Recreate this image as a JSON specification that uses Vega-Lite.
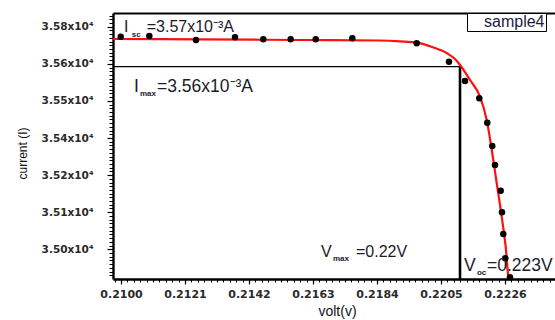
{
  "$schema": "https://vega.github.io/schema/vega-lite/v6.json",
  "autosize": {"type": "none"},
  "width": 442,
  "height": 266,
  "padding": {"left": 113, "top": 13, "right": 0, "bottom": 41},
  "background": "white",
  "config": {
    "view": {"stroke": null},
    "axis": {"grid": false, "domainColor": "black", "tickColor": "black", "labelFont": "DejaVu Sans", "titleFont": "Liberation Sans", "labelColor": "#2a2a2a", "titleColor": "#111", "titleFontWeight": "normal", "labelOverlap": false, "labelFlush": false, "labelBound": false}
  },
  "datasets": {
    "points": [
      {"v": 0.20999, "i": 3.57413},
      {"v": 0.210929, "i": 3.57437},
      {"v": 0.212461, "i": 3.57302},
      {"v": 0.213741, "i": 3.57393},
      {"v": 0.214669, "i": 3.57325},
      {"v": 0.215568, "i": 3.57325},
      {"v": 0.216389, "i": 3.57325},
      {"v": 0.21759, "i": 3.57359},
      {"v": 0.219703, "i": 3.57191},
      {"v": 0.220762, "i": 3.56571},
      {"v": 0.221288, "i": 3.5592},
      {"v": 0.221757, "i": 3.55338},
      {"v": 0.222019, "i": 3.54515},
      {"v": 0.222183, "i": 3.5373},
      {"v": 0.222272, "i": 3.5309},
      {"v": 0.222459, "i": 3.52224},
      {"v": 0.222502, "i": 3.51497},
      {"v": 0.222544, "i": 3.50765},
      {"v": 0.22261, "i": 3.49947},
      {"v": 0.222764, "i": 3.49307}
    ],
    "fit": [
      {"v": 0.209737, "i": 3.57336},
      {"v": 0.212592, "i": 3.57325},
      {"v": 0.215873, "i": 3.57302},
      {"v": 0.218499, "i": 3.57285},
      {"v": 0.219155, "i": 3.57258},
      {"v": 0.219713, "i": 3.57211},
      {"v": 0.220205, "i": 3.57066},
      {"v": 0.220697, "i": 3.56854},
      {"v": 0.22096, "i": 3.56662},
      {"v": 0.221124, "i": 3.5646},
      {"v": 0.221452, "i": 3.55954},
      {"v": 0.22178, "i": 3.55391},
      {"v": 0.222, "i": 3.54606},
      {"v": 0.222216, "i": 3.53259},
      {"v": 0.222328, "i": 3.52484},
      {"v": 0.222492, "i": 3.51348},
      {"v": 0.222633, "i": 3.50226},
      {"v": 0.222708, "i": 3.49327},
      {"v": 0.222731, "i": 3.49181}
    ],
    "hline": [{"v": 0.209737, "v2": 0.221124, "i": 3.56402}],
    "vline": [{"v": 0.221124, "i": 3.49249, "i2": 3.56402}],
    "mainText": [
      {"v": 0.210098, "i": 3.5774, "t": "I"},
      {"v": 0.210843, "i": 3.5775, "t": "=3.57x10⁻³A"},
      {"v": 0.216563, "i": 3.50159, "t": "V"},
      {"v": 0.217711, "i": 3.50159, "t": "=0.22V"}
    ],
    "bigText": [
      {"v": 0.210427, "i": 3.55718, "t": "I"},
      {"v": 0.211181, "i": 3.55718, "t": "=3.56x10⁻³A"},
      {"v": 0.221255, "i": 3.49688, "t": "V"},
      {"v": 0.222009, "i": 3.49688, "t": "=0.223V"}
    ],
    "subText": [
      {"v": 0.210355, "i": 3.5746, "t": "sc"},
      {"v": 0.210623, "i": 3.55482, "t": "max"},
      {"v": 0.216956, "i": 3.49923, "t": "max"},
      {"v": 0.221681, "i": 3.49453, "t": "oc"}
    ]
  },
  "resolve": {"axis": {"x": "independent", "y": "independent"}},
  "layer": [
    {
      "data": {"name": "hline"},
      "mark": {"type": "rule", "color": "black", "strokeWidth": 1.3},
      "encoding": {
        "x": {"field": "v", "type": "quantitative", "scale": {"domain": [0.209737, 0.224241], "nice": false, "zero": false},
              "axis": {"orient": "top", "labels": false, "ticks": false, "title": null, "domainWidth": 2}},
        "x2": {"field": "v2"},
        "y": {"field": "i", "type": "quantitative", "scale": {"domain": [3.49249, 3.58212], "nice": false, "zero": false},
              "axis": {"orient": "left", "title": "current (I)", "titleFontSize": 12, "titleX": -91, "titleY": 140, "titleAngle": -90, "titleAlign": "center", "titleBaseline": "middle",
                       "domainWidth": 2.4, "labelFontSize": 10.5, "labelFontWeight": "bold", "labelPadding": 14, "tickSize": 6, "tickWidth": 1.2,
                       "values": [3.5025, 3.515, 3.5275, 3.54, 3.5525, 3.565, 3.5775],
                       "labelExpr": "['3.58','3.56','3.55','3.54','3.52','3.51','3.50'][round((3.5775-datum.value)/0.0125)] + 'x10⁴'"}}
      }
    },
    {
      "data": {"name": "vline"},
      "mark": {"type": "rule", "color": "black", "strokeWidth": 2.6},
      "encoding": {
        "x": {"field": "v", "type": "quantitative",
              "axis": {"orient": "bottom", "labels": false, "domain": false, "title": null, "tickSize": 3, "tickWidth": 1.1,
                       "values": [0.20979,0.21,0.21021,0.21042,0.21063,0.21084,0.21105,0.21126,0.21147,0.21168,0.21189,0.2121,0.21231,0.21252,0.21273,0.21294,0.21315,0.21336,0.21357,0.21378,0.21399,0.2142,0.21441,0.21462,0.21483,0.21504,0.21525,0.21546,0.21567,0.21588,0.21609,0.2163,0.21651,0.21672,0.21693,0.21714,0.21735,0.21756,0.21777,0.21798,0.21819,0.2184,0.21861,0.21882,0.21903,0.21924,0.21945,0.21966,0.21987,0.22008,0.22029,0.2205,0.22071,0.22092,0.22113,0.22134,0.22155,0.22176,0.22197,0.22218,0.22239,0.2226,0.22281,0.22302,0.22323,0.22344,0.22365,0.22386,0.22407]}},
        "y": {"field": "i", "type": "quantitative",
              "axis": {"orient": "left", "labels": false, "domain": false, "title": null, "tickSize": 4, "tickWidth": 1,
                       "values": [3.49375,3.495,3.49625,3.4975,3.49875,3.5,3.50125,3.5025,3.50375,3.505,3.50625,3.5075,3.50875,3.51,3.51125,3.5125,3.51375,3.515,3.51625,3.5175,3.51875,3.52,3.52125,3.5225,3.52375,3.525,3.52625,3.5275,3.52875,3.53,3.53125,3.5325,3.53375,3.535,3.53625,3.5375,3.53875,3.54,3.54125,3.5425,3.54375,3.545,3.54625,3.5475,3.54875,3.55,3.55125,3.5525,3.55375,3.555,3.55625,3.5575,3.55875,3.56,3.56125,3.5625,3.56375,3.565,3.56625,3.5675,3.56875,3.57,3.57125,3.5725,3.57375,3.575,3.57625,3.5775,3.57875,3.58,3.58125]}},
        "y2": {"field": "i2"}
      }
    },
    {
      "data": {"name": "fit"},
      "mark": {"type": "line", "strokeWidth": 2.2, "clip": true, "interpolate": "monotone"},
      "encoding": {
        "x": {"field": "v", "type": "quantitative", "axis": null},
        "y": {"field": "i", "type": "quantitative", "axis": null},
        "color": {"datum": "sample4", "type": "nominal", "scale": {"range": ["#ff1010"]},
                  "legend": {"orient": "none", "legendX": 354, "legendY": 0, "title": null, "strokeColor": "black", "fillColor": "white",
                             "padding": 1, "symbolOpacity": 0, "symbolSize": 40, "labelOffset": 0, "labelFontSize": 16, "labelFont": "Liberation Sans", "labelColor": "#1c1c3c"}}
      }
    },
    {
      "data": {"name": "points"},
      "mark": {"type": "point", "shape": "circle", "filled": true, "color": "black", "size": 42, "opacity": 1},
      "encoding": {
        "x": {"field": "v", "type": "quantitative",
              "axis": {"orient": "bottom", "title": "volt(v)", "titleFontSize": 14, "titleX": 224, "titleY": 32, "titleBaseline": "middle",
                       "domainWidth": 2.4, "labelFontSize": 11, "labelFontWeight": "bold", "labelPadding": 4, "tickSize": 5, "tickWidth": 1.2,
                       "values": [0.21, 0.2121, 0.2142, 0.2163, 0.2184, 0.2205, 0.2226],
                       "format": ".4f"}},
        "y": {"field": "i", "type": "quantitative", "axis": null}
      }
    },
    {
      "data": {"name": "mainText"},
      "mark": {"type": "text", "align": "left", "baseline": "middle", "font": "Liberation Sans", "fontSize": 16, "color": "#1b1b2b"},
      "encoding": {
        "x": {"field": "v", "type": "quantitative", "axis": null},
        "y": {"field": "i", "type": "quantitative", "axis": null},
        "text": {"field": "t"}
      }
    },
    {
      "data": {"name": "bigText"},
      "mark": {"type": "text", "align": "left", "baseline": "middle", "font": "Liberation Sans", "fontSize": 17.5, "color": "#1b1b2b"},
      "encoding": {
        "x": {"field": "v", "type": "quantitative", "axis": null},
        "y": {"field": "i", "type": "quantitative", "axis": null},
        "text": {"field": "t"}
      }
    },
    {
      "data": {"name": "subText"},
      "mark": {"type": "text", "align": "left", "baseline": "middle", "font": "Liberation Sans", "fontSize": 8, "fontWeight": "bold", "color": "#1b1b2b"},
      "encoding": {
        "x": {"field": "v", "type": "quantitative", "axis": null},
        "y": {"field": "i", "type": "quantitative", "axis": null},
        "text": {"field": "t"}
      }
    }
  ]
}
